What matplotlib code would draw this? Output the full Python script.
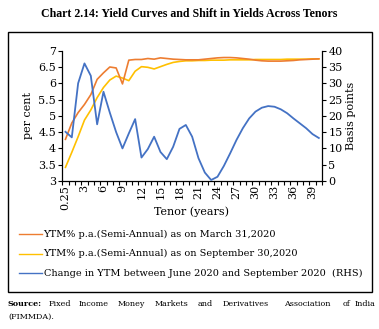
import matplotlib
matplotlib.use("Agg")
import matplotlib.pyplot as plt
from matplotlib.patches import Rectangle
from matplotlib.lines import Line2D

plt.rcParams['font.family'] = ['DejaVu Serif']

tenors = ['0.25'] + [str(t) for t in range(1, 41)]

ytm_mar = [4.28, 4.78, 5.10, 5.35, 5.65, 6.12, 6.32, 6.50, 6.47, 5.98,
           6.71, 6.73, 6.73, 6.76, 6.74, 6.78, 6.76, 6.74, 6.73, 6.72,
           6.72, 6.72, 6.74, 6.76, 6.78, 6.79, 6.79, 6.78, 6.76, 6.74,
           6.71, 6.69, 6.68, 6.68, 6.68, 6.69, 6.70, 6.72, 6.73, 6.74, 6.75]

ytm_sep = [3.42, 3.88, 4.36, 4.87, 5.18, 5.56, 5.87, 6.10, 6.22, 6.16,
           6.08, 6.37, 6.51, 6.49, 6.44, 6.51, 6.58, 6.64, 6.67, 6.69,
           6.69, 6.70, 6.70, 6.71, 6.71, 6.71, 6.72, 6.72, 6.72, 6.72,
           6.73, 6.73, 6.73, 6.73, 6.73, 6.74, 6.74, 6.74, 6.74, 6.75, 6.75]

change_bp = [15.1, 13.4, 30.0, 36.1, 32.3, 17.4, 27.4, 21.0, 15.0, 10.0,
             14.6, 19.0, 7.2, 9.8, 13.6, 8.9, 6.7, 10.5, 16.0, 17.2,
             13.6, 7.0, 2.6, 0.3, 1.3, 4.6, 8.5, 12.6, 16.2, 19.2,
             21.3, 22.5, 23.0, 22.8, 22.0, 20.8, 19.2, 17.7, 16.2, 14.4, 13.2]

labels = ['YTM% p.a.(Semi-Annual) as on March 31,2020',
          'YTM% p.a.(Semi-Annual) as on September 30,2020',
          'Change in YTM between June 2020 and September 2020  (RHS)']
colors = ['#ED7D31', '#FFC000', '#4472C4']

W, H = 379, 329
fig = plt.figure(figsize=(W / 100, H / 100), dpi=100)

def fx(px):
    return px / W

def fy(py):
    return 1 - py / H

ax = fig.add_axes([fx(62.3), fy(181), fx(322) - fx(62.3), fy(50.7) - fy(181)])
ax2 = ax.twinx()

x = list(range(len(tenors)))
ax.plot(x, ytm_mar, color=colors[0], lw=1.2, zorder=3)
ax.plot(x, ytm_sep, color=colors[1], lw=1.2, zorder=2)
ax2.plot(x, change_bp, color=colors[2], lw=1.3)

ax.set_xlim(-0.5, len(tenors) - 0.5)
ax.set_ylim(3, 7)
ax2.set_ylim(0, 40)
ax.set_yticks([3 + 0.5 * i for i in range(9)])
ax.set_yticklabels(['3', '3.5', '4', '4.5', '5', '5.5', '6', '6.5', '7'])
ax2.set_yticks(range(0, 41, 5))

ax.set_xticks(x[::3])
ax.set_xticklabels(tenors[::3], rotation=90)
ax.set_xticks([i - 0.5 for i in range(len(tenors) + 1)], minor=True)
ax.tick_params(axis='x', which='major', length=0, pad=3, labelsize=8)
ax.tick_params(axis='x', which='minor', length=3, width=0.8)
ax.tick_params(axis='y', length=3, width=0.8, pad=1.5, labelsize=8)
ax2.tick_params(axis='y', length=3, width=0.8, pad=1.5, labelsize=8)

for a in (ax, ax2):
    a.spines['top'].set_visible(False)
    for s in ('left', 'right', 'bottom'):
        a.spines[s].set_linewidth(0.9)
ax.spines['right'].set_visible(False)
ax2.spines['left'].set_visible(False)
ax2.spines['bottom'].set_visible(False)

fig.text(fx(28), fy(116), 'per cent', rotation=90, ha='center', va='center', fontsize=8)
fig.text(fx(351), fy(116), 'Basis points', rotation=90, ha='center', va='center', fontsize=8)
fig.text(fx(192), fy(212), 'Tenor (years)', ha='center', va='center', fontsize=8)

# legend rows
for i, (lab, c) in enumerate(zip(labels, colors)):
    yy = fy(234 + 19.7 * i)
    fig.add_artist(Line2D([fx(19), fx(42)], [yy, yy], color=c, lw=1.0))
    fig.text(fx(43.5), yy, lab, ha='left', va='center', fontsize=7.0)

fig.text(0.5, fy(14), 'Chart 2.14: Yield Curves and Shift in Yields Across Tenors',
         ha='center', va='center', fontsize=8.6, fontweight='bold',
         family='Liberation Serif')

fig.add_artist(Rectangle((fx(8), fy(292)), fx(372) - fx(8), fy(32) - fy(292),
                         transform=fig.transFigure, fill=False, ec='black', lw=1.0))

# justified source note
words = ['Fixed', 'Income', 'Money', 'Markets', 'and', 'Derivatives', 'Association', 'of', 'India']
word_x = [49, 79, 118, 155, 198, 222.7, 284, 343, 355]
fig.text(fx(8), fy(304), 'Source:', ha='left', va='center', fontsize=5.8, fontweight='bold')
for w, px in zip(words, word_x):
    fig.text(fx(px), fy(304), w, ha='left', va='center', fontsize=5.8)
fig.text(fx(8), fy(317), '(FIMMDA).', ha='left', va='center', fontsize=5.8)

fig.savefig('out.png', dpi=100)
